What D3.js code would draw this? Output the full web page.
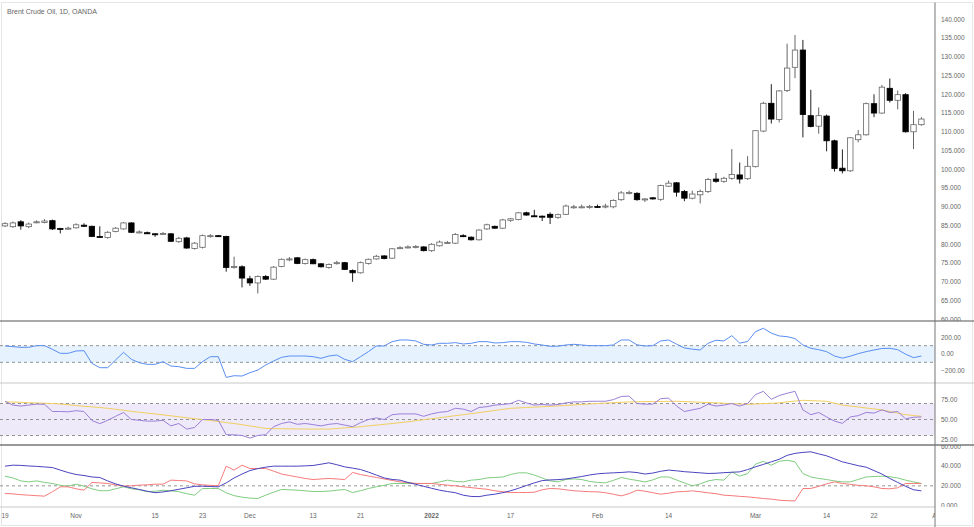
<!DOCTYPE html>
<html><head><meta charset="utf-8">
<script src="https://cdn.jsdelivr.net/npm/d3@7"></script>
<style>body{margin:0;background:#fff}svg{display:block}text{font-family:"Liberation Sans",Arial,sans-serif}</style>
</head><body><svg id="c" width="974" height="527"></svg>
<script>
// ---------- DATA ----------
const title = "Brent Crude Oil, 1D, OANDA";
const open = [84.9,84.7,86.0,84.7,85.9,85.8,86.3,84.2,84.2,84.4,
85.1,84.8,82.1,81.8,83.4,84.1,85.7,83.3,83.1,82.8,
82.8,82.8,80.7,81.7,78.9,79.2,82.2,82.3,82.1,73.9,
74.0,70.8,69.7,71.4,70.7,74.1,76.0,76.4,74.9,75.9,
74.8,73.8,75.0,75.1,73.0,72.4,74.9,76.1,76.9,76.3,
79.0,79.2,79.3,79.3,78.3,79.6,80.4,80.3,82.3,81.9,
81.2,84.1,84.8,84.3,86.4,86.6,88.4,87.6,87.5,88.0,
87.2,88.0,89.9,90.0,90.0,90.1,90.0,90.0,91.9,93.7,
93.6,92.0,92.4,92.0,95.5,96.4,94.1,92.3,93.2,94.1,
97.4,96.8,97.6,98.5,97.5,100.7,110.2,117.6,113.3,121.0,
127.2,131.8,114.3,111.5,114.2,107.6,100.3,99.6,107.9,109.2,
117.5,115.0,121.6,118.4,119.9,110.0,111.9];
const high = [85.9,86.1,86.4,85.8,86.4,86.7,86.6,84.4,84.7,85.6,
85.6,85.0,84.8,83.5,84.6,85.9,85.9,83.7,83.4,83.0,
83.3,83.0,82.0,82.0,80.6,82.6,82.7,82.5,82.3,76.7,
74.4,71.6,71.7,71.8,74.2,76.2,76.6,76.6,76.2,76.2,
75.0,74.9,75.6,75.3,73.3,75.4,76.2,77.2,77.1,79.0,
79.5,79.7,79.8,79.5,80.3,81.0,80.9,83.0,82.7,82.1,
84.0,85.5,85.0,86.8,87.0,88.6,88.7,89.2,87.7,88.5,
88.2,90.6,90.5,90.6,90.5,90.6,90.8,92.0,94.2,94.3,
93.9,92.3,92.6,95.9,97.0,96.6,94.5,94.3,94.6,97.7,
99.0,98.0,105.4,101.8,103.5,110.4,118.0,122.7,121.1,133.5,
135.8,134.5,121.2,116.5,114.6,107.9,105.3,108.6,110.5,117.8,
120.0,122.5,124.2,121.0,120.3,115.6,113.9];
const low = [84.6,84.4,83.9,84.3,85.6,85.6,83.8,82.9,83.9,84.2,
84.6,82.0,81.7,81.5,83.2,83.9,83.0,82.9,82.8,82.0,
82.5,80.6,80.4,78.8,78.6,78.9,81.8,82.0,72.7,73.5,
68.5,68.9,66.9,70.5,70.5,73.9,75.5,74.7,74.6,74.7,
73.8,73.5,74.6,73.2,70.0,72.2,74.6,75.9,76.0,76.1,
78.7,78.9,78.9,78.1,78.0,79.4,80.1,80.1,81.9,81.0,
81.0,83.9,84.1,84.1,86.0,86.4,87.6,87.3,86.2,85.4,
86.8,87.8,89.5,89.6,89.5,89.7,89.6,89.6,91.6,93.3,
91.6,91.3,91.9,91.6,95.3,92.7,91.5,92.0,90.9,93.7,
96.4,96.4,97.2,96.2,97.2,100.5,109.9,112.2,112.5,120.6,
124.3,108.5,111.2,109.5,104.8,99.4,98.9,99.3,107.2,109.0,
113.9,114.8,117.8,116.0,109.8,105.4,111.6];
const close = [85.5,85.7,84.9,85.4,86.0,86.2,84.1,84.1,84.3,85.2,
84.8,82.1,82.0,83.2,84.3,85.7,83.2,83.3,82.8,82.7,
82.9,80.8,81.6,79.0,80.3,82.3,82.3,82.1,73.8,74.1,
71.0,69.7,71.4,70.7,73.9,76.0,76.1,74.9,75.9,74.8,
74.0,74.6,75.1,73.3,72.4,75.1,76.0,76.8,76.2,78.8,
79.1,79.3,79.4,78.3,80.0,80.6,80.5,82.6,82.2,81.2,
83.8,85.2,84.3,86.5,86.8,88.4,87.8,87.5,87.4,87.2,
87.9,90.2,90.0,90.0,90.1,90.0,90.2,91.7,93.7,93.8,
91.9,92.1,92.1,95.7,96.3,93.9,92.3,93.4,94.1,97.3,
96.8,97.6,98.6,97.4,100.8,110.3,117.6,113.4,120.9,127.0,
131.8,114.6,111.4,114.3,107.6,100.2,99.6,108.4,109.2,117.5,
115.0,121.9,118.4,119.9,110.0,111.9,113.4];
const cci = [96,88,80,80,100,100,56,8,8,36,
40,-112,-164,-164,-72,20,-64,-104,-124,-124,
-92,-144,-152,-172,-172,-92,-32,-32,-280,-260,
-264,-224,-192,-132,-84,-40,-24,-24,-24,-32,
-52,-24,-12,-64,-92,-32,28,96,96,148,
168,168,156,116,108,128,128,136,120,128,
148,148,132,136,148,148,140,120,108,92,
94,108,116,108,100,100,100,108,168,168,
110,96,100,156,168,118,72,58,48,128,
165,156,220,130,150,268,308,250,216,208,
185,108,68,52,28,-24,-50,-26,4,28,
48,66,68,52,-2,-44,-24];
const rsi = [72.8,68,66.8,68,69.2,69,60,60,59.6,61,
60,48.8,44.8,49,54,58.8,50,49,48,48,
49,42,45,38,40,50,50,49,31,30.8,
30,26.8,30,31,41,45,47,44,45,43.6,
42,44,45,43,41,46,50,52,50,56,
57,57,57,54,57,59,60,64,63,60,
65,66,68,68.8,70,74,70.8,68,68.8,68,
68.8,70.8,72,72,72.8,72.8,72.8,74.8,78.8,79.2,
70,69.2,69.2,76,76.8,66.8,60,62,64,69.2,
66.8,68,70,66.8,70,81.2,85.2,75.2,80,82.8,
85.2,62,56,58.8,53.2,48,45.2,53.2,54.8,58.8,
58,62,58.8,60,50.8,52.8,53.2];
const rsiMa = [72,71.8,71.5,71,70.7,70.3,70,69.3,68.5,67.5,
66.5,65.8,65,64,62.8,61.5,60.2,59,58,57,
55.8,54.6,53.4,52.2,51,50,48.8,47.5,46.2,45,
43.5,42,40.4,38.8,38.6,38.4,38.3,38.2,38.1,38,
38,38,38.7,39.5,40.2,41,42,43,44,45,
46,47.2,48.5,49.8,51,52.2,53.5,54.8,56,57.3,
58.6,60,61.3,62.7,64,64.5,65,65.5,66,66.5,
67,67.6,68.2,68.8,69.4,70,70.5,71,71.5,72,
72.1,72.3,72.4,72.5,72.7,72.8,72.4,72,71.6,71.2,
70.8,70.3,69.9,69.4,69,69.4,69.9,70.3,70.8,72,
73,74,73.6,73.2,72.8,70.4,68,66.8,65.6,64.4,
63.2,62,60,58,56,55,54];
const adx = [40,41,40.8,40.2,39.8,39.2,38.6,36,33.5,31.5,
30.5,29,28.5,25,22,19.7,18,16.3,14.5,13,
13.8,15,16.5,18,19.5,19.6,19.3,19,23,28,
32,35.5,37.5,39,40,40,40,40,40.3,40.7,
42,43.4,41.5,39.3,38,36.6,34,31,28,26.5,
25.8,23.5,21.5,19.5,17.5,15.6,14.2,13,10.5,9.2,
9,10.5,11.5,13,15,17.5,20.3,23,25.3,26,
26.3,27,28.2,29.5,31,32.2,32.8,33.2,33.6,34.2,
33.5,32,33,34.8,36,35.3,34.4,33.8,33.2,32.6,
32.8,33.4,33.8,34.2,36.5,39.3,41.8,44.4,47,51,
53,54,54.6,52.5,50.5,47.5,44.4,42.5,40.5,39,
35.5,32,27.5,23.5,19.5,16,14.9];
const plusDI = [29.8,28,25,24,25,23.5,22.4,20.5,19.7,21.7,
19.7,17,15,15,17,19,17,16,14,14.5,
15.5,15,14,12,10.5,17.3,17.3,17.3,12.9,10,
8.5,7.5,7.1,10.5,13.5,16.3,16,15.6,15,14.2,
14.3,14.6,15.5,16.3,13.2,15,17.3,19,20.5,22.4,
22.4,22.4,22.4,22.4,22.4,24,25.8,24.5,24,25.8,
26.4,28,28.5,29,31.5,33.2,33.2,31,28,25,
24,26.5,27,26.4,24.5,23.5,23,25.5,28.5,26.8,
25.5,24,26,29,29,26,23,20,22,25,
26.4,25.8,34.2,29.8,32.5,42,45,41,45,46,
44.4,32.5,29,27.5,26.4,25,24,24,26.5,29,
29.5,29.8,29.3,28,25.8,24,22.4];
const minusDI = [12.2,11.8,11,10.5,10,9.5,14,19,19,17,
15.6,23.4,23,22.4,21,19.7,20,20.7,21,21.7,
21.7,25.8,25.4,25,22,21,20.5,20,40,36,
41,37.6,37.6,37.6,35,32,30.5,29,27.5,26.4,
27,27.5,27,26.4,33.6,31.5,30,28.5,27,25.5,
24,23.3,22.5,22.4,22.4,21.5,20.7,20,19,18.2,
17.3,16.5,15,14,13.2,13.2,13.2,13.5,16,17.3,
17,16,15,14.5,14,13.9,13,11.5,9.8,12,
15.6,14.6,13,11.5,12.5,13.9,14.2,14.9,14,12.9,
12,10.5,10,9.3,8.8,8,7.1,6.5,5.4,4.9,
4.7,17.3,17.3,19.5,22,24,22.4,21.5,20.5,20,
19,17.3,17,18,22.4,22.4,22.4];
const priceTicks = [60,65,70,75,80,85,90,95,100,105,110,115,120,125,130,135,140];
const cciTicks = [200,0,-200];
const rsiTicks = [75,50,25];
const dmiTicks = [60,40,20,0];
const xTickIndex = [0,9,19,25,31,39,45,54,64,75,84,95,104,110,118];
const xTickLabels = ["19","Nov","15","23","Dec","13","21","2022","17","Feb","14","Mar","14","22","Apr"];

// ---------- DRAW ----------
const svg = d3.select("#c");
const axisX = 935;
const x = d3.scaleLinear().domain([0,116]).range([5,921.4]);
const yP = d3.scaleLinear().domain([60,140]).range([319.3,19.3]);
const yC = d3.scaleLinear().domain([-200,200]).range([370.7,337.3]);
const yR = d3.scaleLinear().domain([25,75]).range([439.5,399.5]);
const yD = d3.scaleLinear().domain([0,60]).range([505.5,446.5]);

const defs = svg.append("defs");
function clip(id,y0,y1,x0=0,x1=974){defs.append("clipPath").attr("id",id).append("rect").attr("x",x0).attr("y",y0).attr("width",x1-x0).attr("height",y1-y0);}
clip("cp",2,321); clip("cc",321,383); clip("cr",383,445); clip("cd",445,507); clip("cx",507,527,0,axisX);

// outer frame
svg.append("rect").attr("x",1.5).attr("y",2.5).attr("width",971).attr("height",523).attr("fill","none").attr("stroke","#e6e6e6");

// bands
svg.append("rect").attr("x",0).attr("width",axisX).attr("y",yC(100)).attr("height",yC(-100)-yC(100)).attr("fill","#e6f2fd");
svg.append("rect").attr("x",0).attr("width",axisX).attr("y",yR(70)).attr("height",yR(30)-yR(70)).attr("fill","#eeeafa");

function dashed(y){svg.append("line").attr("x1",0).attr("x2",axisX).attr("y1",y).attr("y2",y).attr("stroke","#7a7a7a").attr("stroke-width",0.8).attr("stroke-dasharray","3,3");}
dashed(yC(100)); dashed(yC(-100)); dashed(yR(70)); dashed(yR(50)); dashed(yR(30)); dashed(yD(20));

// candles
const idx = d3.range(open.length);
const cg = svg.append("g").attr("clip-path","url(#cp)");
cg.selectAll("line.w").data(idx).join("line")
  .attr("x1",i=>x(i)).attr("x2",i=>x(i)).attr("y1",i=>yP(high[i])).attr("y2",i=>yP(low[i]))
  .attr("stroke",i=>close[i]>=open[i]?"#666":"#222").attr("stroke-width",1);
const bw = 5.4;
cg.selectAll("rect.b").data(idx).join("rect")
  .attr("x",i=>x(i)-bw/2).attr("width",bw)
  .attr("y",i=>yP(Math.max(open[i],close[i])))
  .attr("height",i=>Math.max(1,Math.abs(yP(open[i])-yP(close[i]))))
  .attr("fill",i=>close[i]>=open[i]?"#fff":"#000")
  .attr("stroke",i=>close[i]>=open[i]?"#666":"#000").attr("stroke-width",0.8);

// indicator lines
function line(arr,ys,color,clipId,w=1){
  svg.append("path").attr("clip-path",`url(#${clipId})`).datum(arr)
    .attr("d",d3.line().x((d,i)=>x(i)).y(d=>ys(d)))
    .attr("fill","none").attr("stroke",color).attr("stroke-width",w).attr("stroke-linejoin","round");
}
line(cci,yC,"#5a8ef2","cc");
line(rsiMa,yR,"#f2cf5e","cr");
line(rsi,yR,"#9b80d8","cr");
line(plusDI,yD,"#7fcd7f","cd");
line(minusDI,yD,"#f77a7a","cd");
line(adx,yD,"#4a44bf","cd");

// separators
function hline(y,c,w,x2=974){svg.append("line").attr("x1",0).attr("x2",x2).attr("y1",y).attr("y2",y).attr("stroke",c).attr("stroke-width",w);}
hline(321,"#555",1.2);
hline(383,"#c8c8c8",1);
hline(445,"#777",1.4);
hline(507,"#c8c8c8",1,axisX);
svg.append("line").attr("x1",axisX).attr("x2",axisX).attr("y1",2.5).attr("y2",527).attr("stroke","#777").attr("stroke-width",1);

// right axes labels
const fmt3 = d3.format(".3f"), fmt2 = d3.format(".2f");
function labels(ticks,ys,fmt,clipId){
  svg.append("g").attr("clip-path",`url(#${clipId})`).selectAll("text").data(ticks).join("text")
    .attr("x",941).attr("y",d=>ys(d)).attr("dy","0.35em").attr("font-size",6.5).attr("fill","#666")
    .text(d=>fmt(d).replace("-","\u2212"));
}
labels(priceTicks,yP,fmt3,"cp");
labels(cciTicks,yC,fmt2,"cc");
labels(rsiTicks,yR,fmt2,"cr");
labels(dmiTicks,yD,fmt3,"cd");

// x axis labels
svg.append("g").attr("clip-path","url(#cx)").selectAll("text").data(xTickIndex).join("text")
  .attr("x",i=>x(i)).attr("y",518).attr("text-anchor","middle").attr("font-size",6.5)
  .attr("font-weight",(d,k)=>xTickLabels[k]==="2022"?"bold":"normal")
  .attr("fill","#666").text((d,k)=>xTickLabels[k]);

// title
svg.append("text").attr("x",7).attr("y",14).attr("font-size",7).attr("fill","#666").text(title);
</script></body></html>
